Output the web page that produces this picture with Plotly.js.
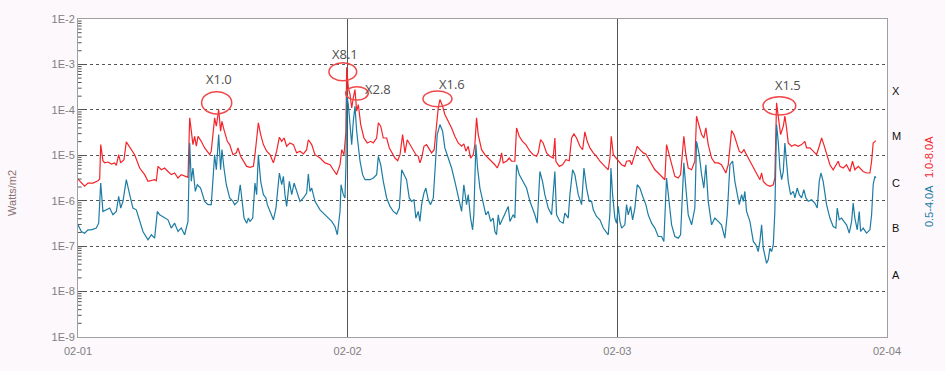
<!DOCTYPE html>
<html>
<head>
<meta charset="utf-8">
<script src="https://cdn.plot.ly/plotly-3.0.1.min.js"></script>
<style>
  html, body { margin: 0; padding: 0; background: #fcf8fc; }
  #chart { width: 945px; height: 371px; }
</style>
</head>
<body>
<div id="chart"></div>
<script>
// Hours since 02-01 00:00 (UTC) and X-ray flux in Watts/m2
const redHours = [0.00,0.59,0.89,1.33,1.78,1.93,2.02,2.22,2.37,2.67,2.97,3.26,3.41,3.62,3.80,4.09,4.30,4.45,4.69,5.04,5.49,5.93,6.23,6.53,6.82,6.97,7.12,7.42,7.71,8.01,8.30,8.60,8.90,9.19,9.49,9.79,9.94,10.08,10.23,10.38,10.53,10.68,10.97,11.27,11.72,11.86,12.01,12.16,12.31,12.52,12.69,12.81,12.99,13.29,13.50,13.79,14.09,14.24,14.47,
14.72,15.01,15.31,15.61,15.75,16.05,16.26,16.50,16.79,17.09,17.39,17.68,17.92,18.13,18.34,18.57,18.87,19.17,19.46,19.76,20.06,20.35,20.50,20.80,21.09,21.54,21.98,22.43,22.72,23.02,23.32,23.47,23.67,23.85,23.91,24.06,24.21,24.36,24.50,24.65,24.80,24.95,25.16,25.45,25.75,26.05,26.28,26.58,26.73,26.94,27.17,27.47,27.71,27.92,28.21,28.45,28.66,28.89,
29.10,29.30,29.54,29.84,30.07,30.28,30.43,30.58,30.79,31.02,31.26,31.47,31.70,31.91,32.06,32.21,32.45,32.65,32.95,33.25,33.54,33.84,34.14,34.34,34.52,34.73,34.94,35.18,35.32,35.47,35.62,35.92,36.21,36.51,36.81,37.10,37.31,37.55,37.70,37.84,38.14,38.38,38.59,38.88,39.03,39.27,39.56,39.86,40.22,40.51,40.81,40.96,41.17,41.40,41.70,42.00,42.29,42.44,42.53,42.83,43.12,
43.42,43.72,43.93,44.14,44.37,44.67,44.91,45.11,45.32,45.56,45.86,46.15,46.45,46.89,47.19,47.34,47.46,47.64,47.87,48.08,48.38,48.67,48.82,49.12,49.27,49.56,49.77,50.01,50.31,50.54,50.75,51.05,51.34,51.64,51.94,52.23,52.38,52.62,52.83,53.12,53.42,53.63,53.92,54.10,54.31,54.61,54.90,55.05,55.29,55.50,55.70,55.88,56.09,56.39,56.68,56.98,57.27,57.57,
57.66,57.87,58.17,58.38,58.61,58.85,59.06,59.27,59.50,59.80,60.10,60.39,60.69,60.84,60.99,61.28,61.58,61.88,62.02,62.17,62.32,62.53,62.77,62.91,63.06,63.21,63.51,63.80,64.10,64.40,64.69,64.84,65.14,65.43,65.73,65.97,66.18,66.38,66.62,66.92,67.21,67.51,67.66,67.81,68.10,68.40,68.70,68.93,69.14,69.44,69.59,69.88,70.18,70.48,70.63,70.77,71.01];
const redFlux = [3.0e-6,2.1e-6,2.45e-6,2.45e-6,2.76e-6,3.0e-6,1.72e-5,7.6e-6,6.8e-6,7.1e-6,6.4e-6,6.8e-6,6.0e-6,1.03e-5,6.8e-6,8.0e-6,1.97e-5,1.72e-5,1.45e-5,1.03e-5,5.25e-6,3.75e-6,2.67e-6,2.76e-6,2.9e-6,2.76e-6,5.7e-6,4.8e-6,5.25e-6,4.4e-6,3.75e-6,4.07e-6,3.16e-6,3.75e-6,3.44e-6,3.27e-6,6.67e-5,2.86e-5,1.72e-5,2.62e-5,1.58e-5,2.62e-5,2.03e-5,1.45e-5,1.03e-5,1.23e-5,2.86e-5,6.67e-5,4.36e-5,1.02e-4,3.38e-5,5.6e-5,3.68e-5,2.03e-5,1.72e-5,1.03e-5,1.13e-5,1.45e-5,9.5e-6,
7.4e-6,5.7e-6,5.4e-6,5.7e-6,1.03e-5,5.2e-5,2.86e-5,1.72e-5,1.23e-5,1.03e-5,6.8e-6,1.23e-5,2.5e-5,2.03e-5,2.4e-5,1.58e-5,1.87e-5,1.72e-5,1.13e-5,1.23e-5,1.07e-5,1.33e-5,2.2e-5,1.72e-5,1.03e-5,8.7e-6,6.8e-6,6.2e-6,4.8e-6,3.75e-6,6.2e-6,1.33e-5,1.03e-5,3.38e-5,8.7e-4,3.05e-4,2.18e-4,1.1e-4,1.84e-4,2.8e-4,9.4e-5,1.31e-4,4.75e-5,2.4e-5,1.87e-5,2.03e-5,1.87e-5,2.4e-5,5.2e-5,4.36e-5,2.4e-5,2.4e-5,1.45e-5,1.13e-5,8.7e-6,7.6e-6,1.03e-5,2.86e-5,
1.13e-5,2.2e-5,1.72e-5,1.23e-5,1.03e-5,9.5e-6,6.8e-6,8.7e-6,1.58e-5,1.72e-5,1.33e-5,1.13e-5,1.33e-5,4.75e-5,1.1e-4,1.69e-4,1.2e-4,7.9e-5,5.6e-5,4.0e-5,2.62e-5,1.87e-5,1.58e-5,1.78e-5,1.23e-5,1.58e-5,8.7e-6,1.03e-5,1.72e-5,6.67e-5,2.86e-5,1.33e-5,1.03e-5,8.7e-6,7.4e-6,6.2e-6,5.25e-6,7.4e-6,1.13e-5,6.8e-6,7.4e-6,8.7e-6,7.4e-6,7.4e-6,4.0e-5,2.62e-5,2.03e-5,1.72e-5,1.23e-5,1.03e-5,9.5e-6,1.13e-5,2.2e-5,1.87e-5,1.13e-5,9.5e-6,8.7e-6,2.4e-5,7.4e-6,5.7e-6,6.2e-6,
8.0e-6,7.6e-6,2.4e-5,2.95e-5,2.4e-5,1.58e-5,1.33e-5,3.27e-5,2.03e-5,1.45e-5,1.13e-5,9.5e-6,7.4e-6,5.7e-6,4.8e-6,8.7e-6,2.62e-5,1.03e-5,8.7e-6,7.4e-6,6.2e-6,5.7e-6,7.4e-6,7.6e-6,6.2e-6,1.03e-5,1.58e-5,1.33e-5,1.13e-5,1.07e-5,8.7e-6,6.8e-6,4.8e-6,4.07e-6,3.44e-6,2.9e-6,1.72e-5,1.03e-5,5.7e-6,3.44e-6,3.16e-6,3.75e-6,2.62e-5,1.03e-5,5.25e-6,4.8e-6,7.4e-6,7.25e-5,4.36e-5,2.86e-5,2.4e-5,4.0e-5,1.72e-5,8.7e-6,6.8e-6,6.8e-6,6.2e-6,4.4e-6,
4.07e-6,6.2e-6,3.5e-5,2.86e-5,1.87e-5,1.23e-5,1.13e-5,1.33e-5,1.03e-5,7.4e-6,5.25e-6,3.75e-6,2.9e-6,4.07e-6,2.67e-6,2.25e-6,2.07e-6,2.25e-6,3.16e-6,1.43e-4,6.67e-5,2.86e-5,4.36e-5,7.25e-5,4.0e-5,1.87e-5,1.58e-5,1.72e-5,1.58e-5,1.72e-5,2.03e-5,1.45e-5,1.45e-5,1.23e-5,1.03e-5,1.58e-5,2.4e-5,1.72e-5,1.03e-5,6.2e-6,4.8e-6,6.2e-6,7.4e-6,5.7e-6,5.25e-6,6.2e-6,4.4e-6,7.4e-6,4.8e-6,5.7e-6,5.25e-6,4.4e-6,4.07e-6,4.07e-6,7.4e-6,1.87e-5,2.1e-5];

const blueHours = [0.00,0.30,0.59,0.89,1.19,1.63,1.84,2.02,2.22,2.52,2.82,3.11,3.41,3.62,3.80,4.00,4.30,4.60,4.89,5.19,5.49,5.78,6.23,6.53,6.82,7.06,7.27,7.71,8.01,8.30,8.60,8.90,9.19,9.49,9.79,9.94,10.08,10.23,10.44,10.62,10.91,11.27,11.57,11.86,12.01,12.16,12.31,12.52,12.69,12.81,12.99,13.20,13.50,13.79,13.94,14.24,14.44,
14.78,15.01,15.16,15.31,15.55,15.75,15.90,16.05,16.26,16.50,16.73,16.85,17.09,17.39,17.62,17.92,18.13,18.28,18.42,18.57,18.81,19.02,19.23,19.46,19.76,20.06,20.35,20.50,20.65,20.80,21.09,21.54,21.98,22.28,22.58,22.87,23.08,23.32,23.41,23.61,23.76,23.85,23.91,24.06,24.21,24.36,24.50,24.65,24.80,24.95,25.10,25.33,25.54,25.99,26.28,26.58,26.73,26.94,27.17,27.47,27.77,28.06,28.36,28.60,28.81,
29.24,29.48,29.69,29.90,30.07,30.28,30.43,30.58,30.79,30.96,31.17,31.38,31.62,31.79,31.97,32.21,32.45,32.65,32.95,33.25,33.54,33.84,34.14,34.34,34.58,34.73,34.94,35.12,35.23,35.41,35.56,35.77,36.07,36.30,36.51,36.72,36.95,37.10,37.25,37.40,37.55,37.84,38.08,38.29,38.44,38.73,38.88,39.03,39.27,39.56,39.92,40.22,40.45,40.66,40.87,41.11,41.34,41.55,41.85,42.15,42.44,42.59,42.89,43.18,
43.33,43.63,43.78,44.02,44.22,44.52,44.82,45.03,45.26,45.50,45.71,45.86,46.15,46.45,46.75,47.04,47.19,47.34,47.43,47.58,47.78,47.93,48.08,48.23,48.38,48.67,48.82,48.97,49.18,49.36,49.56,49.77,50.01,50.31,50.54,50.75,51.05,51.34,51.64,51.94,52.14,52.38,52.62,52.83,53.12,53.42,53.63,53.92,54.10,54.31,54.61,54.90,55.05,55.29,55.50,55.70,55.88,56.09,56.39,56.68,56.98,57.27,
57.57,57.78,58.02,58.26,58.46,58.67,58.85,59.06,59.21,59.35,59.50,59.80,60.10,60.33,60.54,60.69,60.84,60.99,61.13,61.28,61.43,61.58,61.73,61.88,62.02,62.17,62.32,62.47,62.62,62.77,62.91,63.06,63.21,63.42,63.66,63.80,64.01,64.19,64.40,64.60,64.78,64.99,65.29,65.58,65.79,65.97,66.12,66.32,66.62,66.92,67.21,67.45,67.57,67.75,67.96,68.16,68.40,68.64,68.85,68.99,69.14,69.35,69.53,69.65,69.88,70.18,70.48,70.63,70.77,70.92,71.01];
const blueFlux = [2.95e-7,2.1e-7,1.93e-7,2.29e-7,2.29e-7,2.5e-7,3.2e-7,2.45e-6,5.8e-7,6.3e-7,6.9e-7,4.9e-7,5.8e-7,1.25e-6,6.9e-7,9.7e-7,2.9e-6,1.36e-6,6.9e-7,6.3e-7,3.5e-7,2.1e-7,1.38e-7,1.78e-7,1.5e-7,5.8e-7,4.9e-7,4.15e-7,3.8e-7,2.5e-7,3.2e-7,2.1e-7,2.5e-7,1.78e-7,3.5e-7,1.87e-5,2.67e-6,5.25e-6,1.6e-6,2.25e-6,1.9e-6,9.7e-7,8.2e-7,8.2e-7,3.16e-6,1.03e-5,4.8e-6,2.86e-5,4.8e-6,1.33e-5,5.25e-6,2.25e-6,1.15e-6,9.7e-7,8.2e-7,9.7e-7,2.25e-6,
4.15e-7,3.2e-7,4.15e-7,3.5e-7,4.15e-7,2.45e-6,1.36e-6,1.03e-5,2.67e-6,1.36e-6,1.15e-6,8.2e-7,5.8e-7,3.8e-7,6.9e-7,4.07e-6,2.25e-6,3.44e-6,1.36e-6,7.5e-7,2.67e-6,1.36e-6,2.45e-6,1.6e-6,9.7e-7,1.15e-6,1.48e-6,3.88e-6,1.6e-6,1.9e-6,9.7e-7,6.3e-7,4.9e-7,4.15e-7,3.5e-7,2.7e-7,1.78e-7,5.8e-7,2.25e-6,1.36e-6,1.15e-6,6.2e-6,2.18e-4,1.31e-4,5.6e-5,1.72e-5,5.6e-5,1.2e-4,3.38e-5,1.58e-5,7.4e-6,3.75e-6,2.9e-6,2.9e-6,3.16e-6,3.75e-6,9.5e-6,6.2e-6,2.67e-6,1.15e-6,7.5e-7,5.8e-7,5.1e-7,6.9e-7,4.8e-6,
2.9e-6,1.15e-6,9.7e-7,1.05e-6,4.15e-7,5.8e-7,3.5e-7,8.2e-7,1.48e-6,1.9e-6,1.05e-6,8.2e-7,1.15e-6,5.25e-6,2.86e-5,4.75e-5,3.38e-5,1.45e-5,8.7e-6,5.25e-6,2.67e-6,1.15e-6,5.8e-7,2.25e-6,8.2e-7,1.36e-6,4.15e-7,2.29e-7,4.9e-7,1.72e-5,5.25e-6,1.9e-6,8.2e-7,4.9e-7,5.8e-7,3.5e-7,4.15e-7,2.1e-7,1.78e-7,4.9e-7,2.95e-7,4.15e-7,5.8e-7,7.5e-7,3.5e-7,4.9e-7,4.15e-7,6.2e-6,3.75e-6,2.67e-6,1.9e-6,9.7e-7,6.9e-7,4.9e-7,3.2e-7,4.4e-6,2.67e-6,1.36e-6,6.9e-7,4.9e-7,4.4e-6,4.9e-7,3.5e-7,3.2e-7,
5.35e-7,4.15e-7,1.36e-6,4.8e-6,3.75e-6,1.36e-6,8.2e-7,5.25e-6,1.9e-6,9.7e-7,9.7e-7,6.3e-7,4.5e-7,3.8e-7,2.5e-7,1.93e-7,1.78e-7,5.35e-7,5.25e-6,1.36e-6,4.15e-7,3.2e-7,7.5e-7,3.5e-7,2.5e-7,2.95e-7,8.2e-7,4.9e-7,7.5e-7,3.8e-7,6.9e-7,2.25e-6,1.9e-6,1.15e-6,8.2e-7,4.9e-7,3.2e-7,2.5e-7,1.63e-7,1.63e-7,1.27e-7,3.16e-6,9.7e-7,2.95e-7,1.63e-7,1.5e-7,1.78e-7,6.8e-6,1.9e-6,4.9e-7,2.95e-7,6.9e-7,2.03e-5,1.03e-5,3.75e-6,1.9e-6,6.2e-6,9.7e-7,2.95e-7,4.15e-7,3.5e-7,2.95e-7,
1.5e-7,4.9e-7,6.2e-6,7.4e-6,2.67e-6,1.36e-6,8.2e-7,1.36e-6,9.7e-7,1.6e-6,5.8e-7,3.5e-7,1.27e-7,1.07e-7,7.6e-8,1.27e-7,2.95e-7,9.0e-8,6.4e-8,4.2e-8,5.0e-8,9.0e-8,7.6e-8,1.07e-7,5.8e-7,4.75e-5,2.03e-5,5.25e-6,2.9e-6,4.4e-6,1.87e-5,6.2e-6,2.67e-6,1.36e-6,1.6e-6,1.15e-6,1.9e-6,1.36e-6,1.15e-6,1.75e-6,1.15e-6,9.7e-7,1.05e-6,8.9e-7,6.9e-7,2.67e-6,4.07e-6,2.67e-6,8.2e-7,4.15e-7,2.7e-7,2.5e-7,6.9e-7,3.8e-7,4.15e-7,3.5e-7,2.95e-7,1.93e-7,3.5e-7,8.9e-7,4.15e-7,2.29e-7,5.8e-7,2.1e-7,2.5e-7,1.93e-7,2.29e-7,4.9e-7,2.25e-6,3.44e-6,3.16e-6];

const yTickVals = [1e-9,1e-8,1e-7,1e-6,1e-5,1e-4,1e-3,1e-2];
const yTickText = ['1E-9','1E-8','1E-7','1E-6','1E-5','1E-4','1E-3','1E-2'];
const xTickVals = ['2026-02-01','2026-02-02','2026-02-03','2026-02-04'];
const xTickText = ['02-01','02-02','02-03','02-04'];
const classLabels = ['X','M','C','B','A'];
const flareLabels = ['X1.0','X8.1','X2.8','X1.6','X1.5'];

const startMs = Date.UTC(2026, 1, 1);
const toMs = h => startMs + h * 3600000;
const yMinLog = -9, yMaxLog = -2;

const traces = [
  { x: redHours.map(toMs), y: redFlux, type: 'scatter', mode: 'lines',
    line: { color: '#f4242a', width: 1.2 }, name: '1.0-8.0A', hoverinfo: 'x+y' },
  { x: blueHours.map(toMs), y: blueFlux, type: 'scatter', mode: 'lines',
    line: { color: '#1d7ca3', width: 1.2 }, name: '0.5-4.0A', hoverinfo: 'x+y' }
];

// flare label positions (date, log10 y)
const flareText = [
  ['2026-02-01 12:33', -3.33],
  ['2026-02-01 23:46', -2.78],
  ['2026-02-02 02:42', -3.53],
  ['2026-02-02 09:17', -3.44],
  ['2026-02-03 15:11', -3.46]
];
// ellipse boxes: date start/end, paper y bottom/top
const ellipses = [
  ['2026-02-01 11:00', '2026-02-01 13:41', 0.7013, 0.7714],
  ['2026-02-01 22:20', '2026-02-02 00:48', 0.8060, 0.8626],
  ['2026-02-01 23:49', '2026-02-02 01:50', 0.7453, 0.7871],
  ['2026-02-02 06:42', '2026-02-02 09:17', 0.7242, 0.7736],
  ['2026-02-03 12:58', '2026-02-03 15:53', 0.6981, 0.7557]
];
const classY = [-3.595, -4.586, -5.599, -6.59, -7.626];

const annotations = [];
flareLabels.forEach((t, i) => annotations.push({
  text: t, x: flareText[i][0], y: flareText[i][1], xref: 'x', yref: 'y',
  showarrow: false, xanchor: 'center', yanchor: 'middle',
  font: { family: 'Open Sans, sans-serif', size: 13, color: '#505050' }
}));
classLabels.forEach((t, i) => annotations.push({
  text: t, x: 1, y: classY[i], xref: 'paper', yref: 'y', xshift: 3,
  showarrow: false, xanchor: 'left', yanchor: 'middle',
  font: { family: 'Liberation Sans, Arial, sans-serif', size: 11, color: '#111' }
}));
annotations.push({
  text: 'Watts/m2', x: -0.0816, y: 0.453, xref: 'paper', yref: 'paper', textangle: -90,
  showarrow: false, xanchor: 'center', yanchor: 'middle',
  font: { family: 'Liberation Sans, Arial, sans-serif', size: 11, color: '#8a7272' }
});
annotations.push({
  text: '1.0-8.0A', x: 1.052, y: 0.566, xref: 'paper', yref: 'paper', textangle: -90,
  showarrow: false, xanchor: 'center', yanchor: 'middle',
  font: { family: 'Liberation Sans, Arial, sans-serif', size: 11, color: '#f4242a' }
});
annotations.push({
  text: '0.5-4.0A', x: 1.052, y: 0.412, xref: 'paper', yref: 'paper', textangle: -90,
  showarrow: false, xanchor: 'center', yanchor: 'middle',
  font: { family: 'Liberation Sans, Arial, sans-serif', size: 11, color: '#1d7ca3' }
});

const shapes = ellipses.map(e => ({
  type: 'circle', xref: 'x', yref: 'paper', x0: e[0], x1: e[1], y0: e[2], y1: e[3],
  line: { color: '#f04848', width: 1.5 }, layer: 'above'
}));
// minor ticks on the left axis (inside), log-spaced within each decade
for (let n = yMinLog; n < yMaxLog; n++) {
  for (let k = 2; k <= 9; k++) {
    const p = (n + Math.log10(k) - yMinLog) / (yMaxLog - yMinLog);
    shapes.push({ type: 'line', xref: 'paper', yref: 'paper', x0: 0, x1: 0.0045, y0: p, y1: p,
      line: { color: '#555555', width: 1 }, layer: 'above' });
  }
}

const layout = {
  width: 945, height: 371,
  margin: { l: 78, r: 58, t: 19, b: 34 },
  paper_bgcolor: '#fcf8fc', plot_bgcolor: '#ffffff',
  showlegend: false,
  xaxis: {
    type: 'date', range: ['2026-02-01', '2026-02-04'],
    tickmode: 'array', tickvals: xTickVals, ticktext: xTickText,
    showgrid: true, gridcolor: '#555555', gridwidth: 1,
    ticks: '', ticklabelstandoff: 4, showline: true, mirror: true, linecolor: '#a0a0a0', linewidth: 1,
    zeroline: false,
    tickfont: { family: 'Liberation Sans, Arial, sans-serif', size: 11, color: '#808080' }
  },
  yaxis: {
    type: 'log', range: [yMinLog, yMaxLog],
    tickmode: 'array', tickvals: yTickVals, ticktext: yTickText,
    showgrid: true, gridcolor: '#555555', gridwidth: 1, griddash: 'dot',
    ticks: 'inside', ticklen: 6, tickcolor: '#555555', tickwidth: 1,
    showline: true, mirror: true, linecolor: '#a0a0a0', linewidth: 1,
    zeroline: false,
    tickfont: { family: 'Liberation Sans, Arial, sans-serif', size: 11, color: '#808080' }
  },
  annotations: annotations,
  shapes: shapes
};

Plotly.newPlot('chart', traces, layout, { displayModeBar: false, staticPlot: true });
</script>
</body>
</html>
